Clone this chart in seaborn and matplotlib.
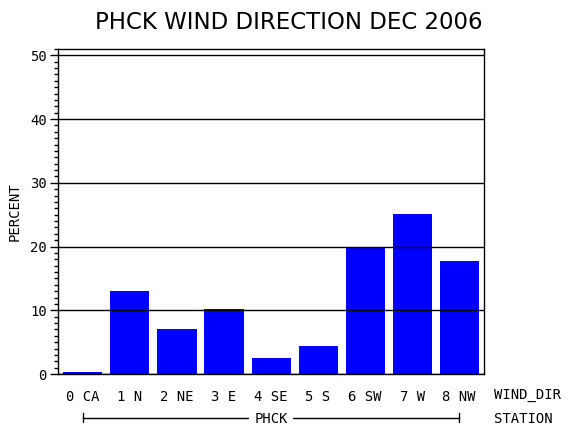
import matplotlib
matplotlib.use("Agg")
import matplotlib.pyplot as plt
import seaborn as sns
import pandas as pd
from matplotlib.ticker import MultipleLocator

# Datos
direcciones = ["0 CA", "1 N", "2 NE", "3 E", "4 SE", "5 S", "6 SW", "7 W", "8 NW"]
porcentaje = [0.3, 13.0, 7.1, 10.2, 2.5, 4.4, 19.8, 25.1, 17.7]
estacion = "PHCK"
titulo = "PHCK WIND DIRECTION DEC 2006"

df = pd.DataFrame({"wind_dir": direcciones, "percent": porcentaje})

sns.set_style("white")
plt.rcParams["text.color"] = "black"
plt.rcParams["xtick.color"] = "black"
plt.rcParams["ytick.color"] = "black"
plt.rcParams["axes.labelcolor"] = "black"
mono = "DejaVu Sans Mono"

fig = plt.figure(figsize=(5.7, 4.3), dpi=100)
ax = fig.add_axes([0.1018, 0.1302, 0.7474, 0.756])

sns.barplot(data=df, x="wind_dir", y="percent", color="#0000ff",
            saturation=1, width=0.83, ax=ax, zorder=1)
for p in ax.patches:
    p.set_edgecolor("none")

ax.set_xlim(-0.53, 8.53)
ax.set_ylim(0, 51)
ax.yaxis.set_major_locator(MultipleLocator(10))
ax.yaxis.set_minor_locator(MultipleLocator(1))
ax.grid(axis="y", which="major", color="black", lw=1, zorder=0)
ax.set_axisbelow(False)
for s in ax.spines.values():
    s.set_visible(True)
    s.set_color("black")
    s.set_linewidth(1)

ax.tick_params(axis="y", which="major", left=True, length=6, width=1, color="black",
               labelsize=10, pad=2, labelcolor="black")
ax.tick_params(axis="y", which="minor", left=True, length=3, width=1, color="black")
ax.tick_params(axis="x", bottom=False, labelsize=10, pad=8, labelcolor="black")
for lab in ax.get_yticklabels() + ax.get_xticklabels():
    lab.set_family(mono)

ax.set_xlabel("")
ax.set_ylabel("PERCENT", family=mono, fontsize=10, labelpad=6, color="black")

tr = ax.get_xaxis_transform()
n = len(direcciones)
ax.text(n - 0.5 + 0.25, -0.064, "WIND_DIR", transform=tr, family=mono,
        fontsize=10, ha="left", va="center", clip_on=False)
ax.text(n - 0.5 + 0.25, -0.138, "STATION", transform=tr, family=mono,
        fontsize=10, ha="left", va="center", clip_on=False)
ax.plot([0, n - 1], [-0.135, -0.135], transform=tr, color="black", lw=1, clip_on=False)
ax.plot([0, 0], [-0.12, -0.148], transform=tr, color="black", lw=1, clip_on=False)
ax.plot([n - 1, n - 1], [-0.12, -0.148], transform=tr, color="black", lw=1, clip_on=False)
ax.text((n - 1) / 2, -0.138, estacion, transform=tr, family=mono, fontsize=10,
        ha="center", va="center", clip_on=False,
        bbox=dict(facecolor="white", edgecolor="none", pad=4))

fig.text(0.507, 0.948, titulo, family="DejaVu Sans", fontsize=16.5,
         ha="center", va="center", color="black")

fig.savefig("out.png", dpi=100)
